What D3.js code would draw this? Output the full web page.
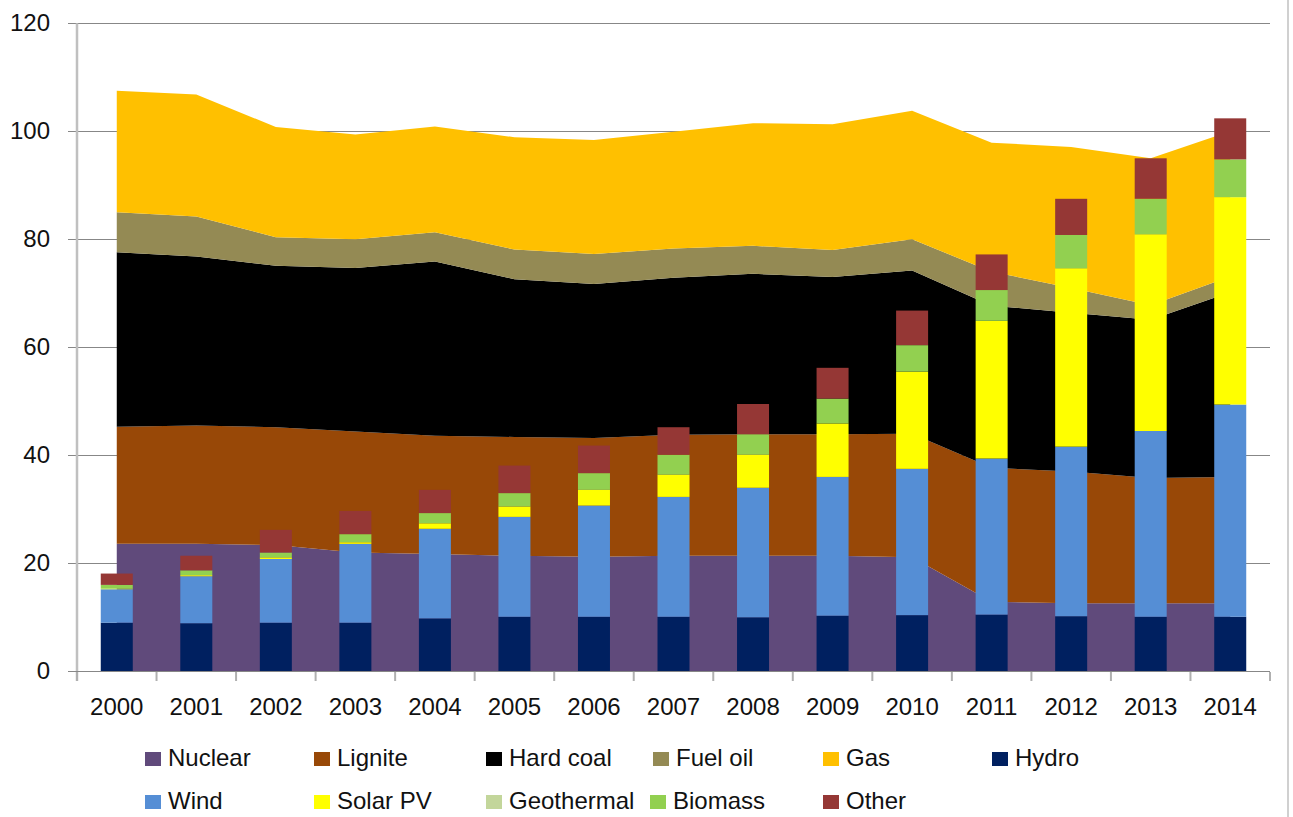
<!DOCTYPE html>
<html>
<head>
<meta charset="utf-8">
<script src="https://cdn.jsdelivr.net/npm/d3@7"></script>
<style>
  html, body { margin: 0; padding: 0; background: #fff; }
  text { font-family: "Liberation Sans", Arial, sans-serif; fill: #111; }
</style>
</head>
<body>
<div id="chart"></div>
<script>
// years on the x axis
const years = ["2000","2001","2002","2003","2004","2005","2006","2007","2008","2009","2010","2011","2012","2013","2014"];

// stacked area series (GW)
const nuclear  = [23.6, 23.6, 23.4, 22.0, 21.7, 21.4, 21.2, 21.4, 21.4, 21.4, 21.1, 12.9, 12.6, 12.6, 12.6];
const lignite  = [21.7, 21.9, 21.8, 22.4, 21.9, 22.0, 22.0, 22.4, 22.5, 22.5, 22.9, 24.8, 24.4, 23.2, 23.4];
const hardCoal = [32.3, 31.3, 29.9, 30.3, 32.3, 29.2, 28.5, 29.1, 29.7, 29.1, 30.2, 30.0, 29.4, 29.3, 34.2];
const fuelOil  = [7.4, 7.4, 5.3, 5.3, 5.4, 5.5, 5.6, 5.4, 5.2, 5.0, 5.8, 6.3, 4.6, 2.7, 2.9];
const gas      = [22.5, 22.6, 20.4, 19.4, 19.6, 20.8, 21.1, 21.6, 22.7, 23.3, 23.8, 23.9, 26.1, 27.2, 26.9];

// stacked bar series (GW)
const hydro      = [9.0, 8.9, 9.0, 9.0, 9.8, 10.1, 10.1, 10.1, 10.0, 10.3, 10.4, 10.5, 10.2, 10.1, 10.1];
const wind       = [6.2, 8.7, 11.8, 14.6, 16.6, 18.5, 20.6, 22.2, 24.0, 25.7, 27.1, 28.9, 31.4, 34.4, 39.3];
const solarPV    = [0.1, 0.2, 0.3, 0.3, 1.0, 1.9, 2.9, 4.1, 6.1, 9.9, 18.0, 25.5, 33.0, 36.4, 38.4];
const geothermal = [0.0, 0.0, 0.0, 0.0, 0.0, 0.0, 0.0, 0.0, 0.0, 0.0, 0.0, 0.0, 0.0, 0.0, 0.0];
const biomass    = [0.7, 0.9, 0.9, 1.5, 1.9, 2.5, 3.1, 3.7, 3.8, 4.6, 4.9, 5.7, 6.2, 6.6, 7.0];
const other      = [2.1, 2.7, 4.2, 4.3, 4.3, 5.1, 5.1, 5.1, 5.6, 5.7, 6.4, 6.6, 6.7, 7.5, 7.6];

const yTicks = [0, 20, 40, 60, 80, 100, 120];

const areaKeys = ["Nuclear", "Lignite", "Hard coal", "Fuel oil", "Gas"];
const barKeys = ["Hydro", "Wind", "Solar PV", "Geothermal", "Biomass", "Other"];
const legendKeys = ["Nuclear", "Lignite", "Hard coal", "Fuel oil", "Gas", "Hydro",
                    "Wind", "Solar PV", "Geothermal", "Biomass", "Other"];

const color = d3.scaleOrdinal()
    .domain(legendKeys)
    .range(["#604a7b", "#984807", "#000000", "#948a54", "#ffc000", "#002060",
            "#558ed5", "#ffff00", "#c3d69b", "#92d050", "#953735"]);

// build rows for d3.stack
const series = {
    "Nuclear": nuclear, "Lignite": lignite, "Hard coal": hardCoal, "Fuel oil": fuelOil, "Gas": gas,
    "Hydro": hydro, "Wind": wind, "Solar PV": solarPV, "Geothermal": geothermal,
    "Biomass": biomass, "Other": other
};
const data = years.map((year, i) => {
    const row = { year };
    legendKeys.forEach(k => row[k] = series[k][i]);
    return row;
});

const width = 1293, height = 817;
const plotLeft = 77, plotRight = 1270, plotTop = 23.3, plotBottom = 671.3;

const svg = d3.select("#chart").append("svg")
    .attr("width", width)
    .attr("height", height);

const x = d3.scaleBand()
    .domain(years)
    .range([plotLeft, plotRight])
    .padding(0);

const y = d3.scaleLinear()
    .domain([0, 120])
    .range([plotBottom, plotTop]);

const cx = d => x(d) + x.bandwidth() / 2;
const barW = 32;

// gridlines
svg.append("g")
    .selectAll("line")
    .data(yTicks)
  .enter().append("line")
    .attr("x1", 68)
    .attr("x2", plotRight)
    .attr("y1", d => Math.round(y(d)) + 0.5)
    .attr("y2", d => Math.round(y(d)) + 0.5)
    .attr("stroke", "#878787")
    .attr("stroke-width", 1.2);

// stacked areas
const areaStack = d3.stack().keys(areaKeys)(data);
const area = d3.area()
    .x(d => cx(d.data.year))
    .y0(d => y(d[0]))
    .y1(d => y(d[1]));

svg.append("g")
    .selectAll("path")
    .data(areaStack)
  .enter().append("path")
    .attr("fill", d => color(d.key))
    .attr("d", area);

// stacked bars
const barStack = d3.stack().keys(barKeys)(data);
svg.append("g")
    .selectAll("g")
    .data(barStack)
  .enter().append("g")
    .attr("fill", d => color(d.key))
  .selectAll("rect")
    .data(d => d)
  .enter().append("rect")
    .attr("x", d => cx(d.data.year) - barW / 2)
    .attr("y", d => y(d[1]))
    .attr("width", barW)
    .attr("height", d => y(d[0]) - y(d[1]));

// y axis line
svg.append("line")
    .attr("x1", plotLeft).attr("x2", plotLeft)
    .attr("y1", plotTop).attr("y2", 681)
    .attr("stroke", "#c0c0c0")
    .attr("stroke-width", 2.5);

// x axis line and boundary ticks
svg.append("line")
    .attr("x1", 68).attr("x2", plotRight)
    .attr("y1", Math.round(y(0)) + 0.5).attr("y2", Math.round(y(0)) + 0.5)
    .attr("stroke", "#878787")
    .attr("stroke-width", 1.2);

svg.append("g")
    .selectAll("line")
    .data(years.map(d => x(d)).concat([plotRight]))
  .enter().append("line")
    .attr("x1", d => d).attr("x2", d => d)
    .attr("y1", 672).attr("y2", 681)
    .attr("stroke", "#b0b0b0")
    .attr("stroke-width", 2);

// y tick labels
const yAxis = svg.append("g")
    .attr("transform", `translate(${plotLeft},0)`)
    .call(d3.axisLeft(y).tickValues(yTicks).tickSize(0).tickPadding(27));
yAxis.select(".domain").remove();
yAxis.selectAll("text")
    .style("font-family", "Liberation Sans, Arial, sans-serif")
    .style("font-size", "24px")
    .attr("fill", "#111");

// x tick labels
const xAxis = svg.append("g")
    .attr("transform", `translate(0,${plotBottom})`)
    .call(d3.axisBottom(x).tickSize(0).tickPadding(27));
xAxis.select(".domain").remove();
xAxis.selectAll("text")
    .style("font-family", "Liberation Sans, Arial, sans-serif")
    .style("font-size", "24px")
    .attr("fill", "#111");

// right border
svg.append("line")
    .attr("x1", 1288).attr("x2", 1288)
    .attr("y1", 0).attr("y2", height)
    .attr("stroke", "#d0d0d0")
    .attr("stroke-width", 2);

// legend
const legendX = [145, 314, 486, 653, 823, 992, 145, 314, 486, 650, 823];
const legendY = [752, 752, 752, 752, 752, 752, 795, 795, 795, 795, 795];

const legend = svg.selectAll(".legend")
    .data(legendKeys)
  .enter().append("g")
    .attr("class", "legend")
    .attr("transform", (d, i) => `translate(${legendX[i]},${legendY[i]})`);

legend.append("rect")
    .attr("width", 16)
    .attr("height", 14)
    .attr("fill", color);

legend.append("text")
    .attr("x", 23)
    .attr("y", 14)
    .style("font-size", "24px")
    .text(d => d);
</script>
</body>
</html>
